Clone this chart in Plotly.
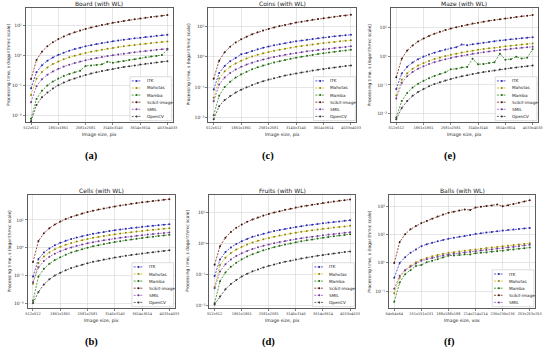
import plotly.graph_objects as go

# ---------------- data ----------------
sizes_2d = [512, 950, 1242, 1477, 1680, 1861, 2026, 2178, 2320, 2454, 2581, 2702, 2818,
            2930, 3037, 3140, 3240, 3338, 3432, 3524, 3614, 3701, 3787, 3870, 3952, 4033]
sizes_3d = [64, 97, 116, 130, 141, 151, 160, 168, 175, 182, 188, 194, 200,
            205, 210, 214, 219, 223, 228, 232, 236, 239, 243, 246, 250, 253]
ticks_2d = ["512x512", "1861x1861", "2581x2581", "3140x3140", "3614x3614", "4033x4033"]
ticks_3d = ["64x64x64", "151x151x151", "188x188x188", "214x214x214", "236x236x236", "253x253x253"]

board_itk = [0.080, 0.277, 0.474, 0.670, 0.865, 1.07, 1.26, 1.46, 1.66, 1.85, 2.08, 2.25, 2.44, 2.64, 2.84, 3.03, 3.23, 3.43, 3.62, 3.82, 4.02, 4.21, 4.41, 4.61, 4.80, 5.00]
board_mahotas = [0.048, 0.166, 0.284, 0.402, 0.519, 0.639, 0.756, 0.876, 0.993, 1.11, 1.23, 1.35, 1.46, 1.58, 1.70, 1.82, 1.94, 2.06, 2.17, 2.29, 2.41, 2.53, 2.64, 2.76, 2.88, 3.00]
board_mamba = [0.0075, 0.035, 0.066, 0.100, 0.135, 0.170, 0.205, 0.240, 0.275, 0.310, 0.450, 0.470, 0.480, 0.510, 0.620, 0.580, 0.620, 0.660, 0.710, 0.760, 0.820, 0.880, 0.930, 0.980, 1.050, 1.600]
board_scikit = [0.163, 0.715, 1.36, 2.06, 2.81, 3.59, 4.39, 5.24, 6.10, 6.97, 7.87, 8.81, 9.73, 10.7, 11.6, 12.6, 13.6, 14.6, 15.6, 16.6, 17.7, 18.7, 19.8, 20.8, 21.9, 23.0]
board_smil = [0.027, 0.094, 0.161, 0.228, 0.294, 0.362, 0.428, 0.496, 0.563, 0.629, 0.695, 0.763, 0.830, 0.896, 0.964, 1.03, 1.10, 1.16, 1.23, 1.30, 1.37, 1.43, 1.50, 1.57, 1.63, 1.70]
board_opencv = [0.0062, 0.022, 0.040, 0.058, 0.079, 0.101, 0.124, 0.148, 0.172, 0.197, 0.222, 0.249, 0.275, 0.302, 0.329, 0.356, 0.384, 0.413, 0.441, 0.470, 0.500, 0.529, 0.558, 0.589, 0.619, 0.650]

coins_itk = [0.085, 0.294, 0.502, 0.710, 0.917, 1.20, 1.34, 1.55, 1.75, 1.96, 2.17, 2.38, 2.59, 2.79, 3.00, 3.21, 3.42, 3.63, 3.84, 4.04, 4.26, 4.46, 4.67, 4.88, 5.09, 5.30]
coins_mahotas = [0.045, 0.194, 0.332, 0.469, 0.606, 0.746, 0.882, 1.02, 1.16, 1.30, 1.43, 1.57, 1.71, 1.84, 1.98, 2.12, 2.26, 2.40, 2.53, 2.67, 2.81, 2.95, 3.08, 3.22, 3.36, 3.50]
coins_mamba = [0.012, 0.053, 0.101, 0.152, 0.207, 0.265, 0.325, 0.388, 0.451, 0.515, 0.581, 0.651, 0.719, 0.789, 0.860, 0.932, 1.00, 1.08, 1.15, 1.23, 1.31, 1.38, 1.46, 1.54, 1.62, 1.70]
coins_scikit = [0.19, 0.746, 1.42, 2.15, 2.93, 3.74, 4.58, 5.47, 6.36, 7.27, 8.21, 9.19, 10.2, 11.1, 12.1, 13.2, 14.2, 15.2, 16.3, 17.4, 18.5, 19.5, 20.6, 21.7, 22.8, 24.0]
coins_smil = [0.035, 0.122, 0.209, 0.295, 0.381, 0.469, 0.554, 0.642, 0.728, 0.814, 0.900, 0.988, 1.07, 1.16, 1.25, 1.33, 1.42, 1.51, 1.59, 1.68, 1.77, 1.85, 1.94, 2.03, 2.11, 2.20]
coins_opencv = [0.009, 0.024, 0.038, 0.052, 0.067, 0.083, 0.100, 0.119, 0.138, 0.158, 0.178, 0.199, 0.220, 0.241, 0.263, 0.285, 0.307, 0.330, 0.353, 0.376, 0.400, 0.423, 0.447, 0.471, 0.495, 0.520]

maze_itk = [0.072, 0.249, 0.427, 0.603, 0.779, 0.959, 1.13, 1.31, 1.49, 1.67, 1.84, 2.02, 2.50, 2.37, 2.55, 2.73, 2.90, 3.08, 3.26, 3.43, 3.61, 3.79, 3.96, 4.14, 4.32, 4.50]
maze_mahotas = [0.043, 0.150, 0.256, 0.362, 0.467, 0.575, 0.680, 0.788, 0.894, 0.999, 1.10, 1.21, 1.32, 1.42, 1.53, 1.64, 1.74, 1.85, 1.95, 2.06, 2.17, 2.27, 2.38, 2.49, 2.59, 2.70]
maze_mamba = [0.0075, 0.028, 0.053, 0.081, 0.110, 0.140, 0.172, 0.205, 0.238, 0.273, 0.350, 0.360, 0.400, 0.420, 0.800, 0.520, 0.530, 0.570, 0.610, 1.20, 0.750, 0.780, 0.950, 0.820, 0.870, 1.70]
maze_scikit = [0.185, 0.809, 1.54, 2.33, 3.17, 4.06, 4.97, 5.93, 6.89, 7.88, 8.89, 9.96, 11.0, 12.1, 13.2, 14.2, 15.4, 16.5, 17.6, 18.8, 20.0, 21.2, 22.3, 23.6, 24.8, 26.0]
maze_smil = [0.034, 0.116, 0.199, 0.281, 0.363, 0.447, 0.529, 0.613, 0.695, 0.777, 0.859, 0.943, 1.02, 1.11, 1.19, 1.27, 1.35, 1.44, 1.52, 1.60, 1.69, 1.77, 1.85, 1.93, 2.02, 2.10]
maze_opencv = [0.0065, 0.016, 0.028, 0.042, 0.057, 0.073, 0.090, 0.107, 0.125, 0.142, 0.161, 0.180, 0.199, 0.218, 0.238, 0.258, 0.278, 0.298, 0.319, 0.340, 0.361, 0.383, 0.404, 0.426, 0.447, 0.470]

cells_itk = [0.090, 0.388, 0.664, 0.938, 1.21, 1.49, 1.76, 2.04, 2.32, 2.59, 2.86, 3.14, 3.42, 3.69, 3.97, 4.24, 4.52, 4.80, 5.07, 5.34, 5.62, 5.89, 6.17, 6.45, 6.72, 7.00]
cells_mahotas = [0.050, 0.277, 0.474, 0.670, 0.865, 1.07, 1.26, 1.46, 1.66, 1.85, 2.05, 2.25, 2.44, 2.64, 2.84, 3.03, 3.23, 3.43, 3.62, 3.82, 4.02, 4.21, 4.41, 4.61, 4.80, 5.00]
cells_mamba = [0.012, 0.090, 0.172, 0.260, 0.354, 0.452, 0.554, 0.661, 0.769, 0.879, 0.992, 1.11, 1.23, 1.35, 1.47, 1.59, 1.71, 1.84, 1.97, 2.10, 2.23, 2.36, 2.49, 2.63, 2.76, 2.90]
cells_scikit = [0.30, 1.74, 3.32, 5.02, 6.83, 8.74, 10.7, 12.8, 14.9, 17.0, 19.2, 21.4, 23.7, 26.0, 28.3, 30.7, 33.1, 35.6, 38.0, 40.5, 43.1, 45.6, 48.1, 50.7, 53.3, 56.0]
cells_smil = [0.056, 0.194, 0.332, 0.469, 0.606, 0.746, 0.882, 1.02, 1.16, 1.30, 1.43, 1.57, 1.71, 1.84, 1.98, 2.12, 2.26, 2.40, 2.53, 2.67, 2.81, 2.95, 3.08, 3.22, 3.36, 3.50]
cells_opencv = [0.010, 0.025, 0.047, 0.072, 0.098, 0.125, 0.153, 0.182, 0.212, 0.242, 0.274, 0.306, 0.338, 0.371, 0.405, 0.438, 0.473, 0.508, 0.542, 0.578, 0.615, 0.651, 0.687, 0.725, 0.762, 0.800]

fruits_itk = [0.090, 0.310, 0.531, 0.750, 0.969, 1.19, 1.41, 1.64, 1.85, 2.07, 2.29, 2.51, 2.73, 2.95, 3.18, 3.39, 3.61, 3.84, 4.05, 4.27, 4.50, 4.72, 4.93, 5.16, 5.38, 5.60]
fruits_mahotas = [0.040, 0.205, 0.351, 0.496, 0.640, 0.788, 0.932, 1.08, 1.22, 1.37, 1.51, 1.66, 1.81, 1.95, 2.10, 2.24, 2.39, 2.53, 2.68, 2.82, 2.97, 3.12, 3.26, 3.41, 3.55, 3.70]
fruits_mamba = [0.012, 0.062, 0.118, 0.179, 0.244, 0.312, 0.382, 0.456, 0.530, 0.606, 0.684, 0.766, 0.846, 0.928, 1.01, 1.10, 1.18, 1.27, 1.36, 1.45, 1.54, 1.63, 1.72, 1.81, 1.90, 2.00]
fruits_scikit = [0.21, 0.82, 1.55, 2.35, 3.20, 4.08, 4.99, 5.95, 6.92, 7.90, 8.92, 9.98, 11.0, 12.1, 13.2, 14.3, 15.4, 16.5, 17.6, 18.8, 20.0, 21.2, 22.4, 23.6, 24.8, 26.0]
fruits_smil = [0.037, 0.127, 0.218, 0.308, 0.398, 0.490, 0.580, 0.672, 0.761, 0.851, 0.941, 1.03, 1.12, 1.21, 1.30, 1.39, 1.48, 1.58, 1.67, 1.75, 1.85, 1.94, 2.03, 2.12, 2.21, 2.30]
fruits_opencv = [0.011, 0.020, 0.034, 0.050, 0.068, 0.087, 0.107, 0.128, 0.148, 0.170, 0.192, 0.214, 0.237, 0.260, 0.283, 0.307, 0.331, 0.356, 0.380, 0.405, 0.431, 0.456, 0.481, 0.507, 0.533, 0.560]

balls_itk = [0.30, 1.00, 1.60, 2.30, 3.00, 3.90, 4.60, 5.20, 5.90, 6.50, 7.20, 7.80, 8.40, 9.10, 9.80, 10.8, 11.4, 12.0, 12.6, 13.2, 14.0, 14.6, 15.3, 16.0, 16.8, 17.5]
balls_mahotas = [0.083, 0.30, 0.55, 0.80, 1.05, 1.30, 1.50, 1.72, 1.90, 2.10, 2.30, 2.40, 2.55, 2.70, 2.85, 3.00, 3.15, 3.35, 3.50, 3.70, 3.90, 4.05, 4.30, 4.50, 4.75, 5.00]
balls_mamba = [0.042, 0.20, 0.40, 0.55, 0.78, 0.85, 1.05, 1.20, 1.35, 1.55, 1.80, 1.85, 1.90, 2.05, 2.00, 2.20, 2.30, 2.35, 2.50, 2.60, 2.70, 2.85, 3.00, 3.15, 3.30, 3.50]
balls_scikit = [1.0, 5.5, 10.5, 15.5, 20.5, 26.0, 31.0, 37.0, 44.0, 52.0, 60.0, 66.0, 72.0, 79.0, 75.0, 92.0, 98.0, 104.0, 110.0, 118.0, 102.0, 112.0, 124.0, 136.0, 150.0, 167.0]
balls_smil = [0.12, 0.35, 0.55, 0.75, 0.95, 1.20, 1.35, 1.50, 1.65, 1.85, 2.00, 2.10, 2.20, 2.35, 2.45, 2.60, 2.75, 2.85, 3.00, 3.15, 3.30, 3.50, 3.70, 3.90, 4.15, 4.40]

libraries = ["ITK", "Mahotas", "Mamba", "Scikit-image", "SMIL", "OpenCV"]
line_colors = {"ITK": "#4646d8", "Mahotas": "#d2c520", "Mamba": "#43962f",
               "Scikit-image": "#8a3a2a", "SMIL": "#a068c8", "OpenCV": "#5a5a5a"}
marker_colors = {"ITK": "#2a2aa0", "Mahotas": "#8c8214", "Mamba": "#26641a",
                 "Scikit-image": "#3a1a14", "SMIL": "#6a3a90", "OpenCV": "#333333"}

# ---------------- layout helpers ----------------
W, H = 550, 348
labels_2d = [f"{s}x{s}" for s in sizes_2d]
labels_3d = [f"{s}x{s}x{s}" for s in sizes_3d]

panels = [
    dict(title="Board (with WL)", tag="(a)", cats=labels_2d, ticks=ticks_2d, xtitle="Image size, pix",
         box=(23, 173, 8, 122), yr=(-2.23, 1.6), yexp=[-2, -1, 0, 1], ytx=5, cx=90,
         series=[board_itk, board_mahotas, board_mamba, board_scikit, board_smil, board_opencv]),
    dict(title="Coins (with WL)", tag="(c)", cats=labels_2d, ticks=ticks_2d, xtitle="Image size, pix",
         box=(209, 360, 8, 122), yr=(-2.14, 1.6), yexp=[-2, -1, 0, 1], ytx=188, cx=270,
         series=[coins_itk, coins_mahotas, coins_mamba, coins_scikit, coins_smil, coins_opencv]),
    dict(title="Maze (with WL)", tag="(e)", cats=labels_2d, ticks=ticks_2d, xtitle="Image size, pix",
         box=(395, 545, 8, 122), yr=(-2.28, 1.66), yexp=[-2, -1, 0, 1], ytx=373, cx=455,
         series=[maze_itk, maze_mahotas, maze_mamba, maze_scikit, maze_smil, maze_opencv]),
    dict(title="Cells (with WL)", tag="(b)", cats=labels_2d, ticks=ticks_2d, xtitle="Image size, pix",
         box=(25, 175, 195, 308), yr=(-2.18, 1.9), yexp=[-2, -1, 0, 1], ytx=7, cx=90,
         series=[cells_itk, cells_mahotas, cells_mamba, cells_scikit, cells_smil, cells_opencv]),
    dict(title="Fruits (with WL)", tag="(d)", cats=labels_2d, ticks=ticks_2d, xtitle="Image size, pix",
         box=(210, 359, 195, 308), yr=(-2.07, 1.56), yexp=[-2, -1, 0, 1], ytx=188, cx=270,
         series=[fruits_itk, fruits_mahotas, fruits_mamba, fruits_scikit, fruits_smil, fruits_opencv]),
    dict(title="Balls (with WL)", tag="(f)", cats=labels_3d, ticks=ticks_3d, xtitle="Image size, vox",
         box=(393, 542, 195, 308), yr=(-1.6, 2.41), yexp=[-1, 0, 1, 2], ytx=373, cx=455,
         series=[balls_itk, balls_mahotas, balls_mamba, balls_scikit, balls_smil]),
]

FONT = "DejaVu Sans"
fig = go.Figure()
shapes, annotations = [], []
sup = {-2: "10⁻²", -1: "10⁻¹", 0: "10⁰", 1: "10¹", 2: "10²"}

for k, p in enumerate(panels):
    ax = "" if k == 0 else str(k + 1)
    L, R, T, B = p["box"]
    pw, ph = R - L, B - T
    fig.update_layout({
        f"xaxis{ax}": dict(domain=[L / W, R / W], anchor=f"y{ax}", type="category",
                           range=[-1, len(p["cats"])], tickvals=p["ticks"], ticktext=p["ticks"],
                           showgrid=True, gridcolor="#d6d6d6", gridwidth=0.6,
                           showline=True, mirror=True, linecolor="#333", linewidth=0.8,
                           ticks="outside", ticklen=2, tickwidth=0.6, tickcolor="#333",
                           tickfont=dict(size=3.5, family=FONT, color="#333"), zeroline=False),
        f"yaxis{ax}": dict(domain=[1 - B / H, 1 - T / H], anchor=f"x{ax}", type="log",
                           range=list(p["yr"]), tickvals=[10.0 ** e for e in p["yexp"]],
                           ticktext=[sup[e] for e in p["yexp"]],
                           showgrid=True, gridcolor="#d6d6d6", gridwidth=0.6,
                           showline=True, mirror=True, linecolor="#333", linewidth=0.8,
                           ticks="outside", ticklen=2, tickwidth=0.6, tickcolor="#333",
                           tickfont=dict(size=4.5, family=FONT, color="#333"), zeroline=False),
    })
    names = libraries[:len(p["series"])]
    for name, vals in zip(names, p["series"]):
        fig.add_trace(go.Scatter(
            x=p["cats"], y=vals, name=name, mode="lines+markers", showlegend=False,
            xaxis=f"x{ax}", yaxis=f"y{ax}", hoverinfo="skip",
            line=dict(color=line_colors[name], width=0.9, dash="2px,1.3px"),
            marker=dict(color=marker_colors[name], size=2.0, line=dict(width=0)),
        ))

    # titles and labels
    annotations.append(dict(xref="paper", yref="paper", x=(L + R) / 2 / W, y=1 - (T - 4.4) / H,
                            text=p["title"], showarrow=False, xanchor="center", yanchor="middle",
                            font=dict(size=6, family=FONT, color="#222")))
    annotations.append(dict(xref="paper", yref="paper", x=(L + R) / 2 / W, y=1 - (B + 12.5) / H,
                            text=p["xtitle"], showarrow=False, xanchor="center", yanchor="middle",
                            font=dict(size=4.6, family=FONT, color="#222")))
    annotations.append(dict(xref="paper", yref="paper", x=p["ytx"] / W, y=1 - (T + B) / 2 / H,
                            text="Processing time, s (logarithmic scale)", textangle=-90,
                            showarrow=False, xanchor="center", yanchor="middle",
                            font=dict(size=4.4, family=FONT, color="#222")))
    annotations.append(dict(xref="paper", yref="paper", x=p["cx"] / W, y=1 - (B + 34) / H,
                            text=f"<b>{p['tag']}</b>", showarrow=False, xanchor="center", yanchor="middle",
                            font=dict(size=10.5, family="Liberation Serif", color="#000")))

    # legend box (drawn by hand so it can be as compact as the original)
    n = len(names)
    bw, step = 42.5, 7.1
    bh = 8.4 + (n - 1) * step
    bx1, by1 = R - 1.2, B - 1.4
    bx0, by0 = bx1 - bw, by1 - bh
    xd = lambda px: (px - L) / pw
    yd = lambda py: (B - py) / ph
    xr, yr_ = f"x{ax} domain", f"y{ax} domain"
    shapes.append(dict(type="rect", xref=xr, yref=yr_, x0=xd(bx0), x1=xd(bx1), y0=yd(by1), y1=yd(by0),
                       fillcolor="rgba(255,255,255,0.9)", line=dict(color="#c8c8c8", width=0.6), layer="above"))
    for j, name in enumerate(names):
        cy = by0 + 4.2 + j * step
        shapes.append(dict(type="line", xref=xr, yref=yr_, x0=xd(bx0 + 1.8), x1=xd(bx0 + 11.8),
                           y0=yd(cy), y1=yd(cy), layer="above",
                           line=dict(color=line_colors[name], width=0.9, dash="2px,1.3px")))
        r = 1.0
        shapes.append(dict(type="circle", xref=xr, yref=yr_, x0=xd(bx0 + 6.8 - r), x1=xd(bx0 + 6.8 + r),
                           y0=yd(cy + r), y1=yd(cy - r), layer="above",
                           fillcolor=marker_colors[name], line=dict(width=0)))
        annotations.append(dict(xref=xr, yref=yr_, x=xd(bx0 + 15), y=yd(cy), text=name,
                                showarrow=False, xanchor="left", yanchor="middle",
                                font=dict(size=4.2, family=FONT, color="#222")))

fig.update_layout(width=W, height=H, margin=dict(l=0, r=0, t=0, b=0),
                  paper_bgcolor="white", plot_bgcolor="white", hovermode=False,
                  shapes=shapes, annotations=annotations, showlegend=False)
fig.write_html("out.html", config={"displayModeBar": False, "staticPlot": True},
               post_script="document.body.style.margin='0';document.body.style.overflow='hidden';")
